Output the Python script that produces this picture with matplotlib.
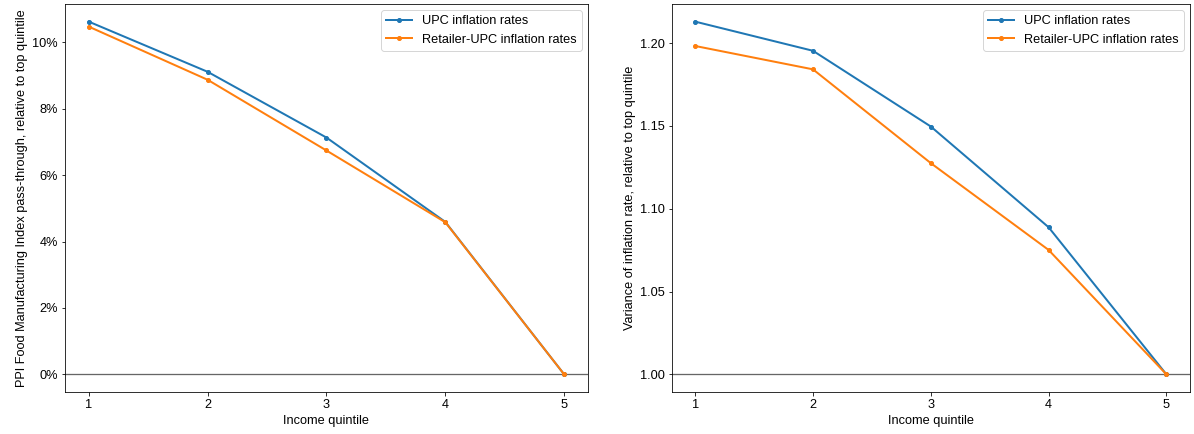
import numpy as np
import matplotlib.pyplot as plt
import matplotlib.ticker as mtick

plt.rcParams['font.family'] = ['Liberation Sans', 'DejaVu Sans']
plt.rcParams['font.size'] = 12.7
plt.rcParams['lines.linewidth'] = 2.0

# Income quintiles
quintiles = [1, 2, 3, 4, 5]

# Left panel: PPI food manufacturing pass-through relative to top quintile (share)
ppi_upc = [0.1062, 0.0911, 0.0713, 0.0459, 0.0]
ppi_retailer = [0.1047, 0.0887, 0.0674, 0.0458, 0.0]

# Right panel: variance of inflation rate relative to top quintile
var_upc = [1.2129, 1.1953, 1.1496, 1.0888, 1.0]
var_retailer = [1.1982, 1.1841, 1.1275, 1.0751, 1.0]

dpi = 72
fig = plt.figure(figsize=(1194 / dpi, 434 / dpi), dpi=dpi)
ax1 = fig.add_axes([0.0544, 0.0968, 0.438, 0.894])
ax2 = fig.add_axes([0.5625, 0.0968, 0.4341, 0.894])

# Left chart
ax1.plot(quintiles, ppi_upc, marker='.', ms=8, label='UPC inflation rates')
ax1.plot(quintiles, ppi_retailer, marker='.', ms=8, label='Retailer-UPC inflation rates')
ax1.axhline(0, color='#666666', lw=1.3, zorder=0)
ax1.yaxis.set_major_formatter(mtick.PercentFormatter(1.0, decimals=0))
ax1.set_xticks(quintiles)
ax1.set_xlabel('Income quintile')
ax1.set_ylabel('PPI Food Manufacturing Index pass-through, relative to top quintile')
ax1.legend(loc='upper right')

# Right chart
ax2.plot(quintiles, var_upc, marker='.', ms=8, label='UPC inflation rates')
ax2.plot(quintiles, var_retailer, marker='.', ms=8, label='Retailer-UPC inflation rates')
ax2.axhline(1, color='#666666', lw=1.3, zorder=0)
ax2.yaxis.set_major_formatter(mtick.FormatStrFormatter('%.2f'))
ax2.set_xticks(quintiles)
ax2.set_xlabel('Income quintile')
ax2.set_ylabel('Variance of inflation rate, relative to top quintile')
ax2.legend(loc='upper right')

fig.savefig('out.png', dpi=dpi)
